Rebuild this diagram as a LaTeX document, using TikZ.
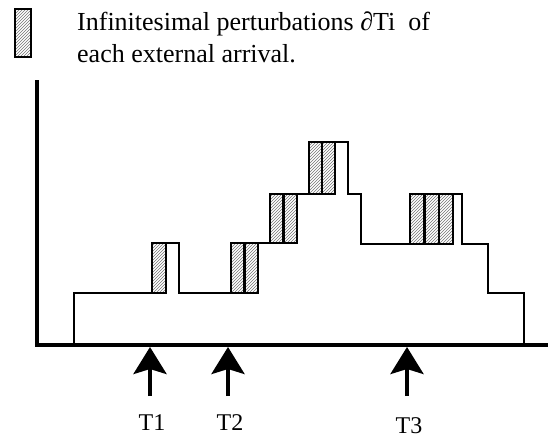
\documentclass[tikz,border=0pt]{standalone}
\usepackage{fontspec}
\setmainfont{Liberation Serif}
\usetikzlibrary{arrows.meta,patterns}
\tikzset{
  hatchbar/.style={draw=black, line width=2.6pt, pattern=north east lines, pattern color=black!55},
  stair/.style={draw=black, line width=1.8pt, line join=miter},
  axis/.style={draw=black, line width=4.5pt},
  arrival/.style={draw=black, line width=4pt, -{Stealth[width=33pt,length=27pt,inset=5pt]}},
  lbl/.style={font=\fontsize{26}{26}\selectfont, inner sep=0pt},
  tlbl/.style={font=\fontsize{24}{24}\selectfont, inner sep=0pt},
}
\begin{document}
\begin{tikzpicture}[x=1pt,y=-1pt]
\useasboundingbox (0,0) rectangle (551,437);
% axes
\coordinate (origin) at (37,345);
\coordinate (ytop) at (37,80);
\coordinate (xend) at (548,345);
\draw[axis] (ytop) -- (origin) -- (xend);
% staircase profile
\draw[stair] (74,345) -- (74,293) -- (152,293) -- (152,243) -- (179,243) -- (179,293)
  -- (231,293) -- (231,243) -- (270,243) -- (270,194) -- (309,194) -- (309,142)
  -- (348,142) -- (348,194) -- (361,194) -- (361,244) -- (410,244) -- (410,194)
  -- (462,194) -- (462,244) -- (488,244) -- (488,293) -- (524,293) -- (524,345);
% hatched perturbation bars
\path[hatchbar] (152,243) rectangle (166,293);
\path[hatchbar] (231,243) rectangle (244.5,293);
\path[hatchbar] (244.5,243) rectangle (258,293);
\path[hatchbar] (270,194) rectangle (283.5,243);
\path[hatchbar] (283.5,194) rectangle (297,243);
\path[hatchbar] (309,142) rectangle (322,194);
\path[hatchbar] (322,142) rectangle (335,194);
\path[hatchbar] (410,194) rectangle (424.5,244);
\path[hatchbar] (424.5,194) rectangle (439,244);
\path[hatchbar] (439,194) rectangle (453,244);
% legend
\path[hatchbar] (15,9) rectangle (31,57);
\node[lbl, anchor=base west] (leg1) at (77,30) {Infinitesimal perturbations ∂Ti\ \ of};
\node[lbl, anchor=base west] (leg2) at (77,62) {each external arrival.};
% arrivals
\node[tlbl, anchor=base] (t1) at (152,430) {T1};
\node[tlbl, anchor=base] (t2) at (230,430) {T2};
\node[tlbl, anchor=base] (t3) at (409,433) {T3};
\coordinate (a1s) at (150,396); \coordinate (a1e) at (150,347);
\coordinate (a2s) at (228,396); \coordinate (a2e) at (228,347);
\coordinate (a3s) at (407,396); \coordinate (a3e) at (407,347);
\draw[arrival] (a1s) -- (a1e);
\draw[arrival] (a2s) -- (a2e);
\draw[arrival] (a3s) -- (a3e);
\end{tikzpicture}
\end{document}
